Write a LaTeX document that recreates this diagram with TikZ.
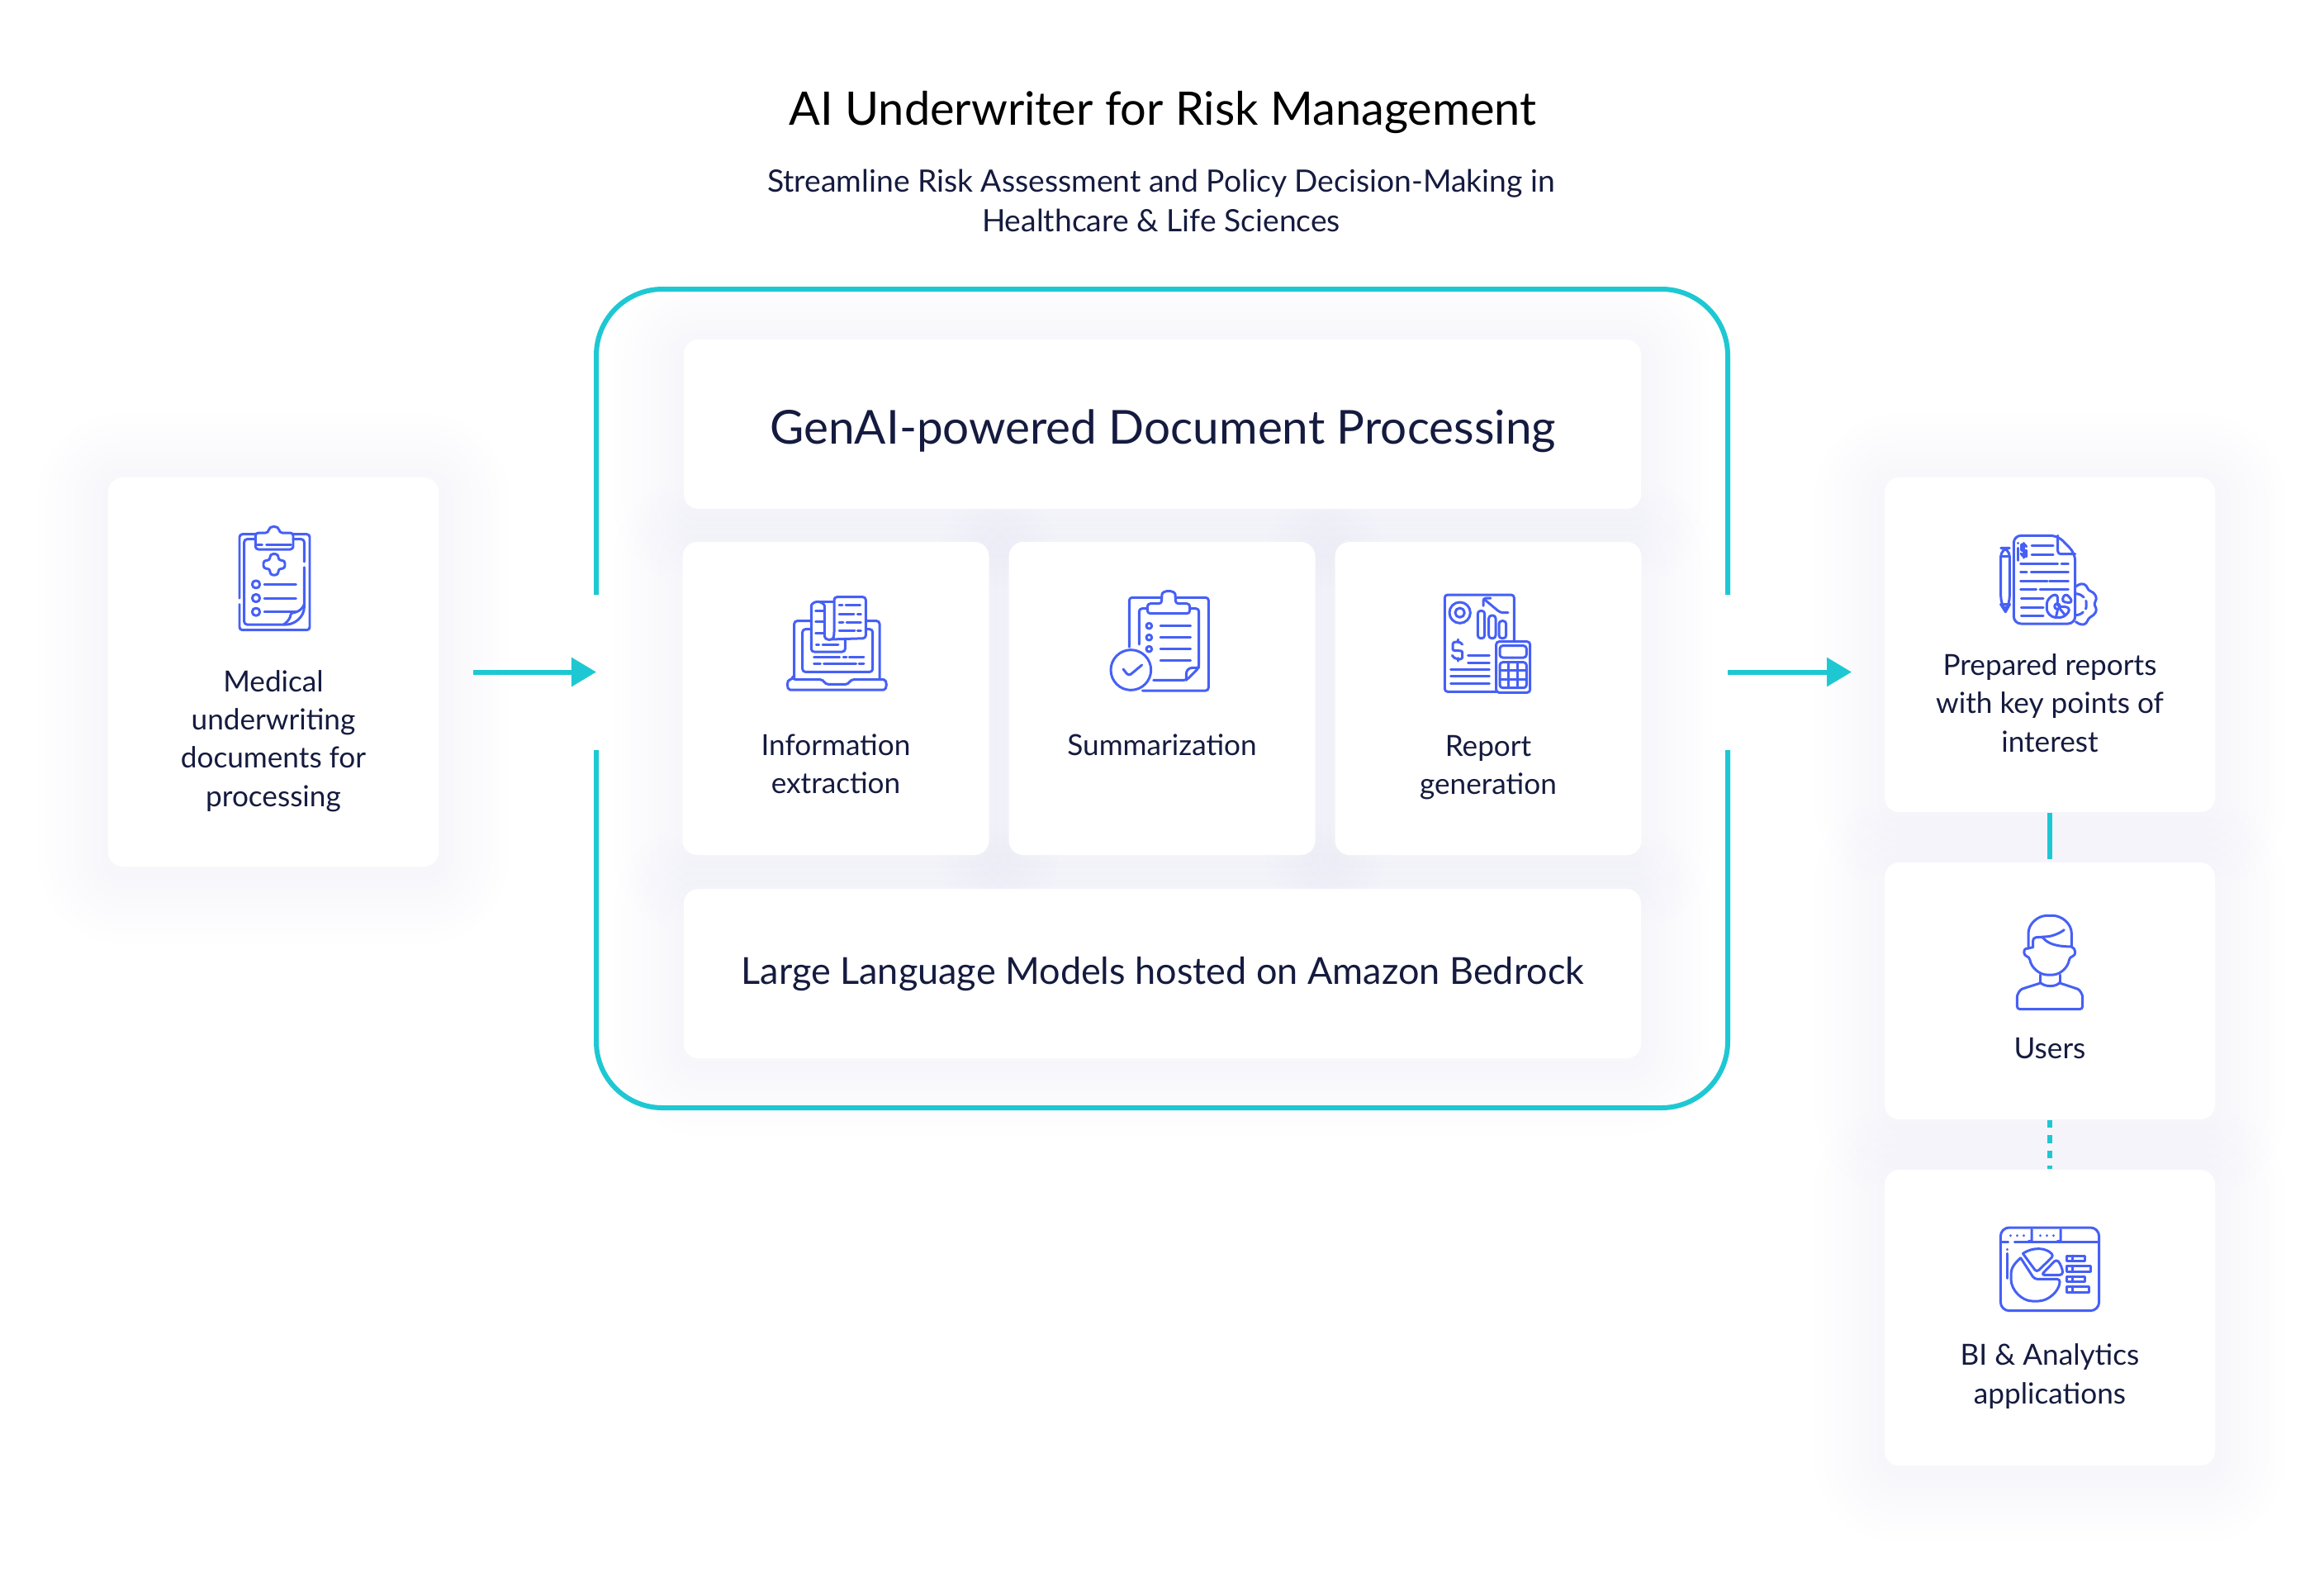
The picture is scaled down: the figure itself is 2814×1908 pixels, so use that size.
\documentclass[tikz,border=0pt]{standalone}
\usepackage{fontspec}
\setmainfont{Lato}
\usetikzlibrary{arrows.meta}
\definecolor{tealline}{HTML}{1EC8D2}
\definecolor{iconblue}{HTML}{4660F6}
\definecolor{inkblue}{HTML}{151B3F}
\tikzset{
    card/.style={fill=white, rounded corners=5pt, inner sep=0pt},
    softshade/.style={fill opacity=0.0045},
    cardtext/.style={align=center, text=inkblue, font=\fontsize{10}{13.2}\selectfont},
    frameline/.style={draw=tealline, line width=0.06cm, rounded corners=22.8pt},
    flowline/.style={draw=tealline, line width=0.06cm, -{Triangle[length=0.3cm,width=0.34cm]}},
    linkline/.style={draw=tealline, line width=0.06cm},
    dotline/.style={linkline, dash pattern=on 0.095cm off 0.09cm},
    icon/.style={x=0.01cm/3, y=-0.01cm/3, draw=iconblue, line width=0.85pt, line cap=round, line join=round, rounded corners=1pt},
}
\newcommand{\cardlist}{inputcard/331/813.5/400/471, genaicard/1407.5/513.5/1159/205,
    extractcard/1012/845.5/371/379, summarycard/1407/845.5/371/379, reportgencard/1802/845.5/371/379,
    llmcard/1407.5/1178.5/1159/205, reportcard/2482/780.5/400/405, userscard/2482/1199.5/400/311,
    bicard/2482/1595/400/358}
\begin{document}
\begin{tikzpicture}[x=0.01cm, y=-0.01cm]
    \useasboundingbox (0,0) rectangle (2814,1908);
    \fill[white] (0,0) rectangle (2814,1908);
    % shadows first, so that no card is tinted by its neighbour
    \foreach \nm/\cx/\cy/\bw/\bh in \cardlist
    {
        \foreach \r/\tint in {8/black,19/blue,30/black,41/blue,52/black,63/blue,74/black,85/blue}
            \path[softshade, fill=\tint, rounded corners=\r*0.2845pt+5pt] ({\cx-\bw/2-\r},{\cy-\bh/2-\r+8}) rectangle ({\cx+\bw/2+\r},{\cy+\bh/2+\r+8});
    }
    \foreach \nm/\cx/\cy/\bw/\bh in \cardlist
    {
        \node[card, minimum width=\bw*0.01cm, minimum height=\bh*0.01cm] (\nm) at (\cx,\cy) {};
    }

    \draw[frameline] (722,720) -- (722,350) -- (2092,350) -- (2092,720);
    \draw[frameline] (722,908) -- (722,1341) -- (2092,1341) -- (2092,908);

    \coordinate (framein) at (722,813.5);
    \coordinate (frameout) at (2092,813.5);
    \coordinate (outtip) at (2242,813.5);
    \draw[flowline, shorten <=0.41cm] (inputcard.east) -- (framein);
    \draw[flowline] (frameout) -- (outtip);
    \draw[linkline, shorten >=0.03cm] (reportcard.south) -- (userscard.north);
    \draw[dotline] (userscard.south) -- (bicard.north);

    \node[text=black, font=\fontsize{15.9}{20}\selectfont] (maintitle) at (1408,136) {AI Underwriter for Risk Management};
    \node[cardtext, font=\fontsize{10.6}{13.6}\selectfont] (subtitle) at (1406,243) {Streamline Risk Assessment and Policy Decision-Making in\\Healthcare \& Life Sciences};
    \node[text=inkblue, font=\fontsize{16.1}{20}\selectfont] (genaitext) at (1408,522) {GenAI-powered Document Processing};
    \node[text=inkblue, font=\fontsize{12.8}{18}\selectfont] (llmtext) at (1408,1179) {Large Language Models hosted on Amazon Bedrock};

    \node[cardtext] (inputtext) at (331,897) {Medical\\underwriting\\documents for\\processing};
    \node[cardtext] (extracttext) at (1012,925) {Information\\extraction};
    \node[cardtext] (summarytext) at (1407,902) {Summarization};
    \node[cardtext] (reportgentext) at (1802,929) {Report\\generation};
    \node[cardtext] (reporttext) at (2482,851) {Prepared reports\\with key points of\\interest};
    \node[cardtext] (userstext) at (2482,1269) {Users};
    \node[cardtext] (bitext) at (2482,1666) {BI \& Analytics\\applications};

    % clipboard with cross
    \begin{scope}[shift={(240,600)}, icon]
        \draw (150,372) -- (150,140) -- (208,140);
        \draw (345,140) -- (405,140) -- (405,488) -- (150,488) -- (150,395);
        \draw (385,240) -- (385,158) -- (345,158);
        \draw (208,158) -- (167,158) -- (167,468) -- (310,468) .. controls (350,468) and (385,440) .. (385,395) -- (385,260);
        \draw (385,395) .. controls (375,420) and (350,425) .. (335,425) .. controls (335,440) and (330,455) .. (310,468);
        \draw (255,135) .. controls (258,108) and (292,108) .. (295,135) -- (345,135) -- (345,195) -- (208,195) -- (208,135) -- cycle;
        \draw (215,178) -- (232,178);
        \draw (248,178) -- (338,178);
        \draw (261,212) -- (291,212) -- (291,235) -- (315,235) -- (315,265) -- (291,265) -- (291,288) -- (261,288) -- (261,265) -- (237,265) -- (237,235) -- (261,235) -- cycle;
        \foreach \y in {322,372,422}
        {
            \draw (197,\y-13) rectangle (223,\y+13);
            \draw (240,\y) -- (355,\y);
        }
    \end{scope}

    % laptop with papers
    \begin{scope}[shift={(940,700)}, icon]
        \draw (65,365) -- (65,155) -- (125,155);
        \draw (325,155) -- (375,155) -- (375,365);
        \draw (125,185) -- (95,185) -- (95,340) -- (350,340) -- (350,185) -- (325,185);
        \draw (60,368) -- (170,368) -- (178,385) -- (262,385) -- (270,368) -- (380,368) .. controls (403,368) and (403,405) .. (380,405) -- (60,405) .. controls (37,405) and (37,368) .. (60,368) -- cycle;
        \draw (150,85) .. controls (136,85) and (127,96) .. (127,110) -- (127,267) -- (250,267) -- (250,222);
        \draw (150,85) .. controls (164,85) and (175,96) .. (175,110) -- (175,200) .. controls (175,225) and (205,228) .. (210,205) -- (210,68) -- (325,68) -- (325,218) -- (195,222);
        \draw (150,85) -- (210,85);
        \foreach \y in {118,158,200}
            \draw (143,\y) -- (170,\y);
        \foreach \ua/\ub/\y in {228/240/98, 252/305/98, 228/282/130, 295/307/130, 228/243/160, 255/307/160, 228/285/190, 295/307/190,
                145/155/240, 168/225/240, 137/230/287, 243/255/287, 265/318/287, 137/160/311, 173/290/311, 300/318/311}
            \draw (\ua,\y) -- (\ub,\y);
    \end{scope}

    % clipboard with check mark
    \begin{scope}[shift={(1330,700)}, icon]
        \draw (112,250) -- (112,70) -- (230,70);
        \draw (280,70) -- (400,70) -- (400,408) -- (160,408);
        \draw (230,70) .. controls (232,42) and (278,42) .. (280,70) -- (280,92) -- (332,92) -- (332,128) -- (178,128) -- (178,92) -- (230,92) -- cycle;
        \draw (148,240) -- (148,110) -- (178,110);
        \draw (332,110) -- (365,110) -- (365,325) -- (320,370) -- (200,370);
        \draw (365,325) -- (330,325) -- (318,340) -- (320,370);
        \foreach \y in {173,215,257}
        {
            \draw (184,\y) circle [radius=10];
            \draw (225,\y) -- (335,\y);
        }
        \draw (225,298) -- (335,298);
        \draw (118,333) circle [radius=73];
        \draw (90,330) -- (110,355) -- (158,315);
    \end{scope}

    % report sheet with calculator
    \begin{scope}[shift={(1730,700)}, icon]
        \draw (245,412) -- (58,412) -- (58,60) -- (310,60) -- (310,230);
        \draw (245,230) rectangle (368,415);
        \draw (258,245) rectangle (355,288);
        \draw (258,305) rectangle (355,398);
        \foreach \u in {290,322}
            \draw[rounded corners=0pt] (\u,305) -- (\u,398);
        \foreach \v in {335,367}
            \draw[rounded corners=0pt] (258,\v) -- (355,\v);
        \draw (113,125) circle [radius=38];
        \draw (113,125) circle [radius=17];
        \draw (288,125) -- (260,125) -- (200,75);
        \draw (198,100) -- (198,72) -- (225,72);
        \draw (178,118) rectangle (203,218);
        \draw (218,135) rectangle (243,218);
        \draw (255,155) rectangle (281,218);
        \draw (122,240) .. controls (115,228) and (88,228) .. (87,248) .. controls (87,268) and (122,258) .. (122,278) .. controls (122,298) and (90,295) .. (85,280);
        \draw (105,222) -- (105,232);
        \draw (105,290) -- (105,300);
        \foreach \ua/\y in {143/281, 143/306, 80/331, 80/356, 80/381}
            \draw (\ua,\y) -- (220,\y);
    \end{scope}

    % prepared report with pencil and gear
    \begin{scope}[shift={(2380,620)}, icon]
        \draw[rounded corners=2.5pt] (175,85) -- (335,85) -- (398,150) -- (398,405) -- (175,405) -- cycle;
        \draw (335,85) -- (335,152) -- (398,152);
        \draw[rounded corners=3pt] (128,130) -- (160,130) -- (160,335) -- (145,362) -- (128,335) -- cycle;
        \draw (128,160) -- (160,160);
        \draw (128,333) -- (160,333);
        \draw (190,130) -- (190,175);
        \draw (190,112) -- (190,113);
        \draw (221,125) .. controls (215,112) and (203,118) .. (203,128) .. controls (203,140) and (221,138) .. (221,150) .. controls (221,162) and (205,162) .. (201,150);
        \draw (212,112) -- (212,165);
        \foreach \ua/\ub/\y in {240/318/122, 240/318/155, 200/335/186, 348/373/186, 200/222/218, 238/373/218, 200/297/249, 305/373/249,
                200/257/281, 270/373/281, 202/282/313, 202/282/345, 202/282/377}
            \draw (\ua,\y) -- (\ub,\y);
        \draw (335,300) .. controls (312,300) and (295,320) .. (295,342) .. controls (295,365) and (312,382) .. (335,382) .. controls (358,382) and (376,365) .. (376,345) -- (333,342) -- cycle;
        \draw (333,342) circle [radius=10];
        \draw (350,325) -- (358,298) .. controls (372,302) and (383,315) .. (386,330) -- cycle;
        \draw (335,352) -- (328,382);
        \draw (342,350) -- (360,372);
        \draw (400,270) -- (420,258) -- (440,265) -- (445,285) -- (465,290) -- (478,315) -- (465,332) -- (478,355) -- (465,375) -- (445,385) -- (440,405) -- (420,410) -- (400,398);
        \draw[dash pattern=on 0.1cm off 0.05cm] (403,296) .. controls (430,300) and (438,320) .. (438,335) .. controls (438,350) and (430,370) .. (403,374);
    \end{scope}

    % user
    \begin{scope}[shift={(2380,1080)}, icon]
        \draw (228,205) -- (228,160) .. controls (228,115) and (262,85) .. (306,85) .. controls (350,85) and (385,115) .. (385,160) -- (385,198);
        \draw (245,200) -- (245,165) -- (285,162) .. controls (315,160) and (340,150) .. (358,137);
        \draw (280,165) .. controls (305,195) and (350,197) .. (385,198);
        \draw (245,200) -- (228,203) .. controls (210,208) and (210,230) .. (232,235) .. controls (238,275) and (270,300) .. (306,300) .. controls (342,300) and (372,275) .. (378,235) .. controls (402,230) and (402,205) .. (385,198);
        \draw (272,300) -- (272,328);
        \draw (342,300) -- (342,328);
        \draw (272,328) .. controls (285,345) and (330,345) .. (342,328);
        \draw (272,330) -- (215,348) .. controls (195,355) and (187,375) .. (187,390) -- (187,425) -- (425,425) -- (425,390) .. controls (425,375) and (417,355) .. (397,348) -- (342,330);
    \end{scope}

    % analytics window
    \begin{scope}[shift={(2380,1460)}, icon]
        \draw[rounded corners=3pt] (127,78) rectangle (485,380);
        \draw (127,130) -- (155,130);
        \draw (178,130) -- (485,130);
        \draw (240,85) -- (240,118) .. controls (240,125) and (235,128) .. (228,128);
        \draw (345,85) -- (345,118) .. controls (345,125) and (340,128) .. (333,128);
        \foreach \u in {163,187,212,270,294,318}
            \draw (\u,107) -- (\u,107.5);
        \draw (150,157) -- (150,157.5);
        \draw (150,172) -- (150,262);
        \draw (200,188) -- (250,265) -- (343,265) .. controls (340,310) and (300,345) .. (253,345) .. controls (205,345) and (165,305) .. (165,255) .. controls (165,225) and (180,205) .. (200,188);
        \draw (208,172) -- (258,240) -- (320,180) .. controls (290,150) and (245,148) .. (208,172);
        \draw (275,250) -- (330,193) .. controls (345,210) and (352,230) .. (353,250) -- cycle;
        \foreach \ya/\yb/\ue in {180/200/433, 217/238/455, 255/275/433, 291/312/448}
        {
            \draw[rounded corners=0pt] (367,\ya) rectangle (\ue,\yb);
            \draw[rounded corners=0pt] (388,\ya) -- (388,\yb);
        }
    \end{scope}
\end{tikzpicture}
\end{document}
